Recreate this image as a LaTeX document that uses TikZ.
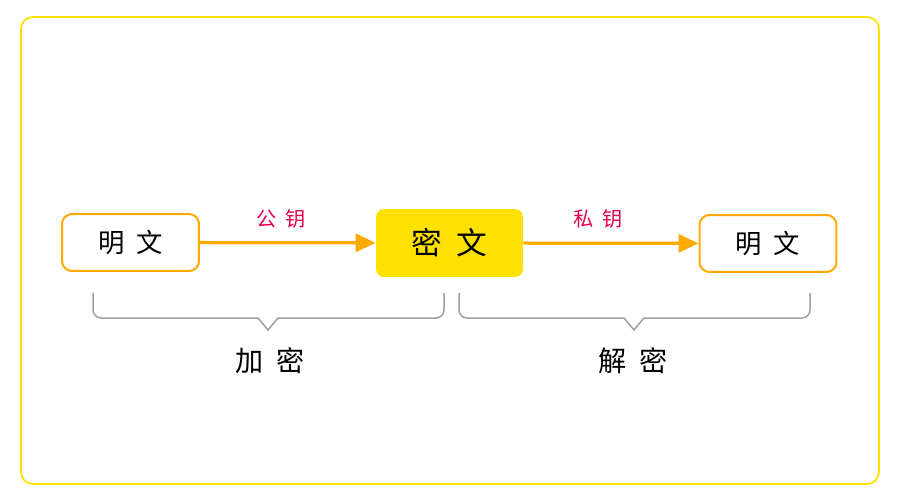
\documentclass[tikz,border=0pt]{standalone}
\usepackage{fontspec}
\newfontfamily\cjk[WordSpace=2]{Noto Sans CJK SC}
\usetikzlibrary{arrows.meta}
\definecolor{frameyellow}{HTML}{FFE100}
\definecolor{keyorange}{HTML}{FFAA00}
\definecolor{keyred}{HTML}{E5004F}
\definecolor{bracegray}{HTML}{A0A0A0}
\tikzset{
  textbox/.style={draw=keyorange, line width=0.04cm, rounded corners=0.2cm, fill=white,
    minimum width=2.74cm, minimum height=1.14cm, font=\cjk\fontsize{15}{18}\selectfont},
  cipherbox/.style={fill=frameyellow, rounded corners=0.16cm,
    minimum width=2.94cm, minimum height=1.36cm, font=\cjk\fontsize{17.5}{20}\selectfont},
  keyarrow/.style={draw=keyorange, line width=0.065cm, -{Triangle[length=0.4cm,width=0.36cm]}},
  keylabel/.style={text=keyred, font=\cjk\fontsize{11.5}{13}\selectfont},
  brace/.style={draw=bracegray, line width=0.03cm},
  stagelabel/.style={font=\cjk\fontsize{16}{19}\selectfont}
}
\begin{document}
\begin{tikzpicture}[x=0.02cm,y=-0.02cm]
        \useasboundingbox (0,0) rectangle (900,500);
        % outer frame
        \draw[frameyellow, line width=0.035cm, rounded corners=0.24cm] (21,17) rectangle (879,484);
        % plain text -> cipher text -> plain text
        \node[textbox] (plainA) at (130.5,242.5) {明 文};
        \node[cipherbox] (cipher) at (449.5,243) {密 文};
        \node[textbox] (plainB) at (768,243.5) {明 文};
        \draw[keyarrow] (plainA) -- (cipher);
        \draw[keyarrow] (cipher) -- (plainB);
        \node[keylabel] (pubkey) at (281,219) {公 钥};
        \node[keylabel] (privkey) at (598,219) {私 钥};
        % braces
        \draw[brace] (93,293) [rounded corners=0.16cm] -- (93,318) [sharp corners] -- (258,318) -- (268,330) -- (278,318) [rounded corners=0.16cm] -- (444,318) -- (444,293);
        \draw[brace] (459,293) [rounded corners=0.16cm] -- (459,318) [sharp corners] -- (624,318) -- (634,330) -- (644,318) [rounded corners=0.16cm] -- (810,318) -- (810,293);
        \node[stagelabel] (encrypt) at (270,361) {加 密};
        \node[stagelabel] (decrypt) at (633,361) {解 密};
    \end{tikzpicture}
\end{document}
